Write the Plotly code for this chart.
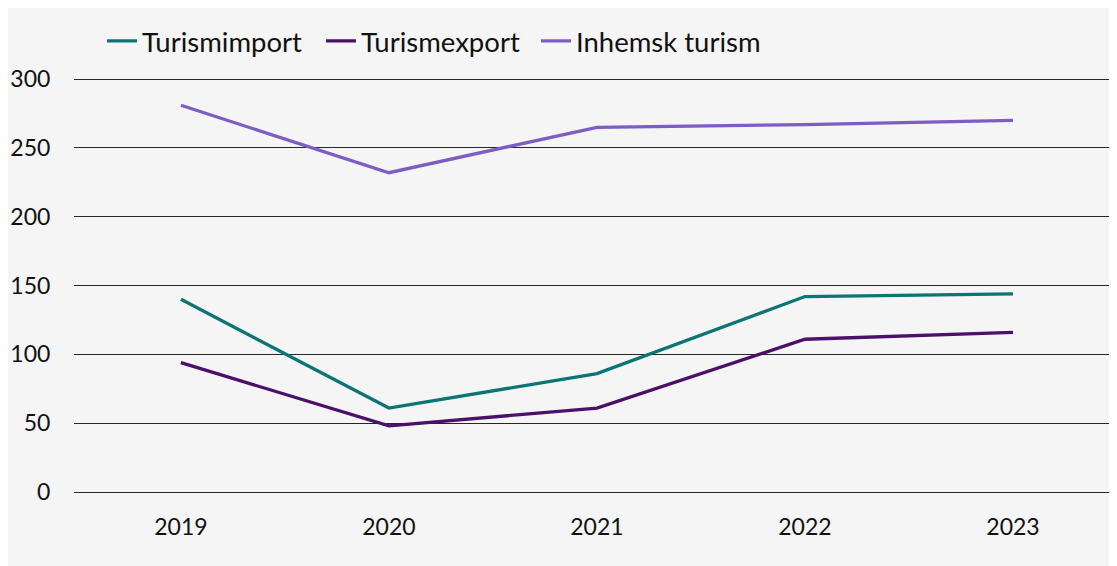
import plotly.graph_objects as go

years = ["2019", "2020", "2021", "2022", "2023"]
turismimport = [140, 61, 86, 142, 144]
turismexport = [94, 48, 61, 111, 116]
inhemsk_turism = [281, 232, 265, 267, 270]

series = [
    ("Turismimport", turismimport, "#0b7474"),
    ("Turismexport", turismexport, "#4b1069"),
    ("Inhemsk turism", inhemsk_turism, "#7e5cc4"),
]

W, H = 1117, 566
L, R, T, B = 66, 8, 67, 82
YMAX = 303

pw = W - L - R
ph = H - T - B
def px_x(p):
    return (p - L) / pw
def px_y(p):
    return (H - B - p) / ph

legend_names = ["legend", "legend2", "legend3"]
legend_x = [94, 313, 528]

fig = go.Figure()
layout_legends = {}
for (name, vals, col), lname, lx in zip(series, legend_names, legend_x):
    fig.add_trace(go.Scatter(x=years, y=vals, name=name, mode="lines",
                             line=dict(color=col, width=3.3), legend=lname))
    layout_legends[lname] = dict(orientation="h", x=px_x(lx), xanchor="left",
                                 y=px_y(33), yanchor="middle",
                                 font=dict(size=27.5, color="#111"),
                                 bgcolor="rgba(0,0,0,0)", itemwidth=30)

fig.update_layout(
    width=W, height=H,
    margin=dict(l=L, r=R, t=T, b=B, pad=0, autoexpand=False),
    paper_bgcolor="#f5f5f5",
    plot_bgcolor="rgba(0,0,0,0)",
    font=dict(family="Lato", color="#111"),
    showlegend=True,
    xaxis=dict(type="category", range=[-0.514, 4.5], showgrid=False,
               showline=False, zeroline=False,
               ticks="outside", ticklen=14, tickcolor="rgba(0,0,0,0)",
               tickfont=dict(size=23, color="#111")),
    yaxis=dict(range=[0, YMAX], tickvals=[0, 50, 100, 150, 200, 250, 300],
               showgrid=True, gridcolor="#262626", gridwidth=1.3,
               zeroline=True, zerolinecolor="#262626", zerolinewidth=1.3,
               showline=False,
               ticks="outside", ticklen=18, tickcolor="rgba(0,0,0,0)",
               tickfont=dict(size=23, color="#111")),
    **layout_legends,
)

fig.write_html("out.html")
